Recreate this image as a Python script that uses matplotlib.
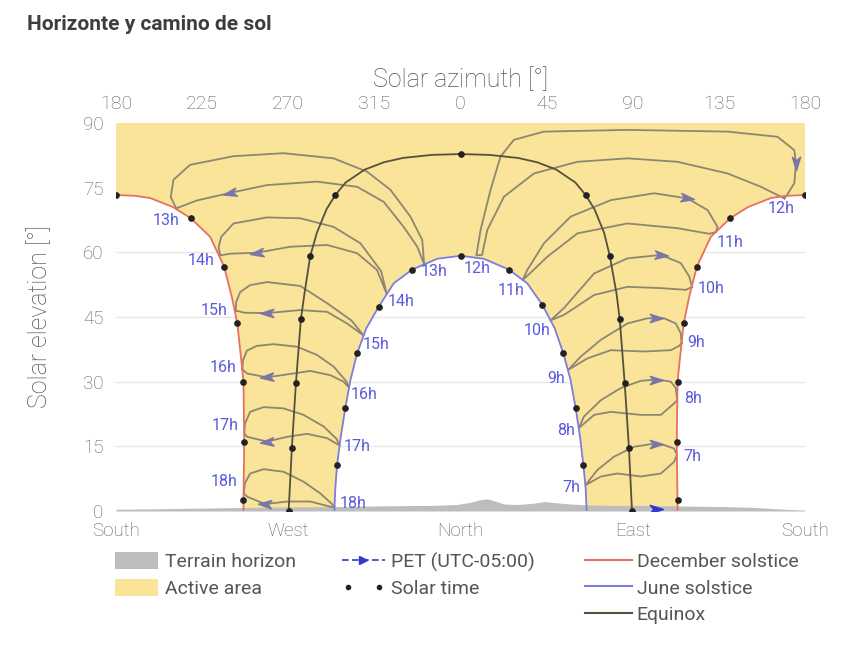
import matplotlib
matplotlib.use("Agg")
import matplotlib.pyplot as plt
from matplotlib.lines import Line2D
from matplotlib.patches import Patch
from matplotlib.path import Path
from matplotlib.transforms import Affine2D
from matplotlib.legend_handler import HandlerLine2D

plt.rcParams['font.family'] = ['Roboto', 'DejaVu Sans']

# Azimuth is unwrapped so the axis runs S -> W -> N -> E -> S:
# 180 = South, 270 = West, 360 = North, 450 = East, 540 = South
az_ticks = [180, 225, 270, 315, 360, 405, 450, 495, 540]
az_labels = ['180', '225', '270', '315', '0', '45', '90', '135', '180']
compass_ticks = [180, 270, 360, 450, 540]
compass_labels = ['South', 'West', 'North', 'East', 'South']
elev_ticks = [0, 15, 30, 45, 60, 75, 90]

# December solstice, afternoon (west) and morning (east) halves
dec_w_az = [180.0, 190.0, 197.8, 209.8, 219.1, 229.2, 236.5, 240.5, 243.4, 245.8, 246.6, 247.0, 246.8, 246.6, 246.6]
dec_w_el = [73.3, 73.1, 72.6, 70.5, 67.9, 63.6, 56.7, 49.7, 43.5, 33.5, 30.0, 16.1, 9.0, 2.6, 0.0]
dec_e_az = [473.4, 473.4, 473.2, 473.0, 473.4, 474.2, 476.6, 479.5, 483.5, 490.8, 500.9, 510.2, 522.2, 530.0, 540.0]
dec_e_el = [0.0, 2.6, 9.0, 16.1, 30.0, 33.5, 43.5, 49.7, 56.7, 63.6, 67.9, 70.5, 72.6, 73.1, 73.3]

# June solstice
june_az = [294.1, 294.6, 295.5, 297.5, 299.8, 302.5, 306.0, 310.8, 317.3, 325.1, 334.7, 347.8, 360.0,
           372.2, 385.3, 394.9, 402.8, 409.2, 413.7, 417.5, 420.2, 422.4, 424.2, 425.4, 425.9]
june_el = [0.0, 5.3, 10.7, 17.4, 23.8, 30.4, 36.6, 42.4, 47.4, 52.8, 56.0, 58.5, 59.2,
           58.5, 56.0, 52.8, 47.8, 42.4, 36.6, 30.4, 23.8, 17.4, 10.7, 5.3, 0.0]

# Equinox
eq_az = [270.2, 271.9, 274.0, 276.6, 278.5, 281.5, 285.0, 290.0, 294.6, 300.0, 310.0, 320.0, 330.0, 345.0, 360.0,
         375.0, 390.0, 400.0, 410.0, 420.0, 425.4, 430.0, 435.0, 438.0, 441.5, 443.2, 445.8, 448.0, 449.6]
eq_el = [0.0, 14.7, 29.6, 44.5, 50.5, 59.2, 64.6, 70.0, 73.3, 76.2, 79.2, 80.9, 81.9, 82.6, 82.8,
         82.6, 81.9, 80.9, 79.2, 76.2, 73.3, 70.0, 64.6, 59.2, 50.5, 44.5, 29.6, 14.7, 0.0]

# Solar time (full hours) on each path
dec_dot_az = [180.0, 219.1, 236.5, 243.4, 246.6, 247.0, 246.6, 500.9, 483.5, 476.6, 473.4, 473.0, 473.4, 540.0]
dec_dot_el = [73.3, 67.9, 56.7, 43.5, 30.0, 16.1, 2.6, 67.9, 56.7, 43.5, 30.0, 16.1, 2.6, 73.3]
june_dot_az = [360.0, 334.7, 385.3, 317.3, 402.8, 306.0, 413.7, 299.8, 420.2, 295.5, 424.2]
june_dot_el = [59.2, 56.0, 56.0, 47.4, 47.8, 36.6, 36.6, 23.8, 23.8, 10.7, 10.7]
eq_dot_az = [360.0, 294.6, 425.4, 281.5, 438.0, 276.6, 443.2, 274.0, 445.8, 271.9, 448.0, 270.2, 449.6]
eq_dot_el = [82.8, 73.3, 73.3, 59.2, 59.2, 44.5, 44.5, 29.6, 29.6, 14.7, 14.7, 0.0, 0.0]

# Terrain horizon
terrain_az = [180, 200, 230, 260, 290, 320, 345, 358, 365, 370, 374, 378, 383, 390, 398, 404, 410,
              418, 428, 440, 455, 470, 485, 500, 515, 525, 535, 540]
terrain_el = [0.4, 0.5, 0.7, 0.9, 1.0, 1.2, 1.3, 1.5, 2.0, 2.6, 2.8, 2.3, 1.6, 1.5, 1.8, 2.2, 1.9,
              1.6, 1.4, 1.3, 1.3, 1.2, 1.1, 1.0, 0.8, 0.5, 0.3, 0.2]

# Analemmas at full PET hours: closed loops starting at the December solstice end
ana_7h_az = [473.1, 471.6, 464.7, 454.2, 442.0, 433.3, 425.3, 431.5, 440.2, 450.7, 459.4, 466.4, 471.6, 473.1]
ana_7h_el = [13.0, 11.4, 8.7, 8.0, 8.7, 8.0, 6.0, 9.5, 12.6, 14.9, 15.5, 15.3, 14.5, 13.0]
ana_8h_az = [473.2, 471.7, 464.7, 454.2, 438.5, 429.8, 421.8, 424.5, 433.3, 443.7, 454.2, 462.9, 469.9, 472.5, 473.2]
ana_8h_el = [25.7, 25.0, 22.3, 22.3, 23.0, 22.3, 19.2, 21.9, 25.7, 28.5, 30.2, 30.5, 30.0, 28.5, 25.7]
ana_9h_az = [475.5, 474.2, 469.9, 455.9, 438.5, 426.3, 416.2, 422.8, 433.3, 447.2, 457.7, 466.4, 472.5, 475.1, 475.5]
ana_9h_el = [38.9, 38.3, 37.3, 37.0, 37.3, 35.4, 32.7, 35.8, 39.7, 43.5, 44.7, 44.7, 43.5, 41.2, 38.9]
ana_10h_az = [481.0, 477.8, 464.7, 447.2, 429.8, 414.1, 407.0, 414.1, 429.8, 447.2, 464.7, 475.1, 479.5, 481.0]
ana_10h_el = [52.0, 51.3, 51.7, 52.0, 50.1, 45.5, 44.2, 47.1, 55.1, 58.6, 59.4, 57.5, 54.4, 52.0]
ana_11h_az = [493.4, 490.0, 473.4, 447.2, 421.1, 405.4, 396.0, 392.5, 394.9, 403.6, 417.6, 438.5, 461.2, 478.6,
              489.1, 494.3, 493.4]
ana_11h_el = [64.7, 64.3, 65.6, 66.7, 64.4, 59.0, 55.0, 53.6, 55.9, 62.1, 68.3, 72.1, 73.7, 72.5,
              69.8, 65.9, 64.7]
ana_12h_az = [529.2, 517.0, 499.5, 473.4, 447.2, 421.1, 398.4, 382.7, 374.0, 371.3, 368.3, 370.5, 375.7, 380.9,
              387.9, 403.6, 447.2, 499.6, 525.7, 534.4, 535.3, 534.4, 530.0, 529.2]
ana_12h_el = [72.5, 75.2, 78.3, 81.0, 81.8, 81.0, 78.3, 72.9, 65.2, 59.4, 59.3, 65.2, 74.5, 82.2,
              86.1, 88.0, 88.4, 88.0, 86.8, 83.7, 80.7, 76.0, 72.9, 72.5]
ana_13h_az = [211.5, 222.0, 239.7, 258.9, 285.0, 306.0, 319.9, 330.3, 337.4, 341.0, 340.0, 333.8, 323.4, 311.2,
              293.7, 267.5, 241.4, 218.7, 210.0, 208.6, 211.5]
ana_13h_el = [70.2, 72.0, 73.8, 75.6, 76.4, 75.2, 71.7, 65.9, 61.3, 57.3, 62.9, 68.3, 74.5, 78.7,
              81.8, 83.0, 82.3, 80.3, 76.8, 72.8, 70.2]
ana_14h_az = [234.5, 240.0, 253.6, 271.1, 290.3, 306.0, 316.4, 321.5, 318.6, 307.7, 293.7, 276.3, 258.9, 241.4,
              235.0, 233.6, 234.5]
ana_14h_el = [59.3, 59.7, 59.9, 61.3, 61.7, 59.8, 55.9, 50.3, 55.6, 62.1, 65.9, 67.9, 68.1, 66.7,
              63.6, 61.2, 59.3]
ana_15h_az = [242.5, 247.0, 258.9, 276.3, 290.3, 300.7, 309.4, 303.0, 290.3, 276.3, 258.9, 250.1, 244.9, 242.8, 242.5]
ana_15h_el = [46.5, 46.0, 45.9, 46.6, 46.2, 43.5, 40.7, 44.2, 48.2, 52.2, 53.1, 52.4, 50.8, 48.5, 46.5]
ana_16h_az = [246.0, 248.4, 258.9, 271.1, 281.5, 292.0, 298.9, 301.8, 300.5, 293.7, 285.0, 274.6, 262.3, 253.6,
              248.4, 246.4, 246.0]
ana_16h_el = [32.9, 31.9, 31.0, 31.8, 32.5, 31.5, 30.0, 28.6, 30.0, 33.5, 36.2, 38.1, 38.7, 38.3,
              37.2, 35.0, 32.9]
ana_17h_az = [247.0, 248.6, 258.9, 269.3, 279.8, 290.3, 296.8, 295.3, 288.5, 278.0, 267.5, 257.1, 250.1, 247.4, 247.0]
ana_17h_el = [18.0, 17.2, 16.1, 17.2, 17.9, 16.9, 15.2, 16.7, 19.6, 22.3, 23.8, 24.1, 23.0, 20.3, 18.0]
ana_18h_az = [246.8, 248.6, 258.0, 269.3, 281.5, 292.0, 294.2, 292.7, 286.7, 278.0, 267.5, 257.1, 250.1, 247.3, 246.8]
ana_18h_el = [4.1, 3.3, 1.6, 2.2, 2.2, 1.0, 0.9, 1.7, 4.1, 6.8, 9.1, 9.7, 8.7, 6.4, 4.1]
# index of the June solstice end in each loop
ana_inner_idx = [6, 6, 6, 6, 7, 10, 9, 7, 6, 7, 6, 6]
hour_labels = ['7h', '8h', '9h', '10h', '11h', '12h', '13h', '14h', '15h', '16h', '17h', '18h']

# direction arrows along the loops
arrow_az = [462.1, 462.1, 462.1, 464.7, 478.6, 535.3, 239.7, 253.6, 258.9, 258.9, 258.9, 258.0]
arrow_el = [15.5, 30.4, 44.7, 59.4, 72.5, 80.7, 73.8, 59.9, 45.9, 31.0, 16.1, 1.6]
arrow_ang = [0, 0, 0, -4, -8, -90, 192, 188, 180, 184, 185, 178]

analemmas = [(ana_7h_az, ana_7h_el), (ana_8h_az, ana_8h_el), (ana_9h_az, ana_9h_el),
             (ana_10h_az, ana_10h_el), (ana_11h_az, ana_11h_el), (ana_12h_az, ana_12h_el),
             (ana_13h_az, ana_13h_el), (ana_14h_az, ana_14h_el), (ana_15h_az, ana_15h_el),
             (ana_16h_az, ana_16h_el), (ana_17h_az, ana_17h_el), (ana_18h_az, ana_18h_el)]

# label placement: (dx, dy, ha) in pixels for the December end and the June end
outer_lbl = [(6, -2, 'left'), (7, 2, 'left'), (6, 1, 'left'), (6, -2, 'left'), (1, -10, 'left'), (-3, -10, 'center'),
             (3, -12, 'right'), (-6, -5, 'right'), (-8, 0, 'right'), (-6, 2, 'right'), (-6, 8, 'right'), (-6, 12, 'right')]
inner_lbl = [(-5, -2, 'right'), (-4, -2, 'right'), (-3, -8, 'right'), (0, -10, 'right'), (2, -11, 'right'),
             (1, -13, 'center'), (-3, -8, 'left'), (1, -7, 'left'), (-1, -9, 'left'), (2, -7, 'left'),
             (4, -1, 'left'), (5, 4, 'left')]

YELLOW = '#f9e49a'
GREY = '#bdbdbd'
RED = '#e8705f'
BLUE = '#7b7fd9'
EQ = '#55513c'
LOOP = '#8d8672'
ARROW = '#7a76a8'
LBL = '#5a5ae0'
TXT = '#5e5e5e'


def arrow_marker(angle):
    verts = [(1.0, 0.0), (-0.9, 0.6), (-0.4, 0.0), (-0.9, -0.6), (1.0, 0.0)]
    codes = [Path.MOVETO, Path.LINETO, Path.LINETO, Path.LINETO, Path.CLOSEPOLY]
    return Path(verts, codes).transformed(Affine2D().rotate_deg(angle))


fig = plt.figure(figsize=(8.55, 6.51), dpi=100)
ax = fig.add_axes([116 / 855, 1 - 511 / 651, 689 / 855, 388 / 651])
ax.set_xlim(180, 540)
ax.set_ylim(0, 90)

# active area: everything above the two solstice envelopes
poly_az = [180, 540] + dec_e_az[::-1] + june_az[::-1] + dec_w_az[::-1]
poly_el = [90, 90] + dec_e_el[::-1] + june_el[::-1] + dec_w_el[::-1]
ax.fill(poly_az, poly_el, color=YELLOW, lw=0, zorder=1)
ax.fill_between(terrain_az, 0, terrain_el, color=GREY, lw=0, zorder=2)

for (a, e) in analemmas:
    ax.plot(a, e, color=LOOP, lw=1.3, zorder=3, solid_joinstyle='round')

ax.plot(eq_az, eq_el, color=EQ, lw=1.3, zorder=4)
ax.plot(dec_w_az, dec_w_el, color=RED, lw=1.3, zorder=4)
ax.plot(dec_e_az, dec_e_el, color=RED, lw=1.3, zorder=4)
ax.plot(june_az, june_el, color=BLUE, lw=1.3, zorder=4)

for da, de in [(dec_dot_az, dec_dot_el), (june_dot_az, june_dot_el), (eq_dot_az, eq_dot_el)]:
    ax.plot(da, de, ls='none', marker='o', ms=3.8, color='#222222', zorder=5)

for a, e, g in zip(arrow_az, arrow_el, arrow_ang):
    ax.plot([a], [e], ls='none', marker=arrow_marker(g), ms=10, color=ARROW, zorder=6)
# early-morning loop only just clears the horizon
ax.plot([462.0], [0.5], ls='none', marker=arrow_marker(0), ms=10, color='#3535d0', zorder=6)

for (a, e), k, h, lo, li in zip(analemmas, ana_inner_idx, hour_labels, outer_lbl, inner_lbl):
    ax.annotate(h, (a[0], e[0]), xytext=lo[:2], textcoords='offset pixels', ha=lo[2], va='center',
                fontsize=11.5, color=LBL, zorder=7)
    ax.annotate(h, (a[k], e[k]), xytext=li[:2], textcoords='offset pixels', ha=li[2], va='center',
                fontsize=11.5, color=LBL, zorder=7)

# axes
for s in ax.spines.values():
    s.set_visible(False)
ax.set_yticks(elev_ticks)
ax.yaxis.grid(True, color='#e8e8e8', lw=1)
ax.set_axisbelow(True)
ax.set_xticks(compass_ticks, labels=compass_labels)
ax.tick_params(axis='both', length=0, labelsize=13.5, labelcolor=TXT)
ax.tick_params(axis='x', pad=8)
ax.tick_params(axis='y', pad=9)
ax.set_ylabel('Solar elevation [°]', fontsize=18, color='#505050', labelpad=22, fontweight='light')

top = ax.secondary_xaxis('top')
top.set_xticks(az_ticks, labels=az_labels)
top.tick_params(length=0, pad=7, labelsize=14, labelcolor=TXT)
top.spines['top'].set_visible(False)
top.set_xlabel('Solar azimuth [°]', fontsize=18, color='#505050', labelpad=6, fontweight='light')

for t in ax.get_xticklabels() + ax.get_yticklabels() + top.get_xticklabels():
    t.set_fontweight('light')

fig.text(27 / 855, 1 - 25 / 651, 'Horizonte y camino de sol', fontsize=15, fontweight='bold',
         color='#3d3d3d', va='center', ha='left')

# legend in three columns
h_terrain = Patch(facecolor=GREY, edgecolor='none')
h_active = Patch(facecolor=YELLOW, edgecolor='none')
h_pet = Line2D([], [], color='#3535d0', lw=1.2, marker='>', ms=6, dashes=(4, 2))
h_solar = Line2D([], [], ls='none', marker='o', ms=3, color='#222222')
h_dec = Line2D([], [], color=RED, lw=1.5)
h_june = Line2D([], [], color=BLUE, lw=1.5)
h_eq = Line2D([], [], color=EQ, lw=1.5)

leg_kw = dict(loc='upper left', frameon=False, borderpad=0, borderaxespad=0,
              labelspacing=0.37, handleheight=1.0, labelcolor='#555555', fontsize=14)
y0 = 1 - 552 / 651
fig.legend([h_terrain, h_active], ['Terrain horizon', 'Active area'],
           bbox_to_anchor=(115 / 855, y0), handlelength=2.2, handletextpad=0.35, **leg_kw)
fig.legend([h_pet, h_solar], ['PET (UTC-05:00)', 'Solar time'],
           bbox_to_anchor=(342 / 855, y0), handlelength=2.2, handletextpad=0.3,
           handler_map={h_pet: HandlerLine2D(numpoints=1), h_solar: HandlerLine2D(numpoints=2)}, **leg_kw)
fig.legend([h_dec, h_june, h_eq], ['December solstice', 'June solstice', 'Equinox'],
           bbox_to_anchor=(585 / 855, y0), handlelength=2.4, handletextpad=0.25, **leg_kw)

fig.savefig('out.png', dpi=100)
